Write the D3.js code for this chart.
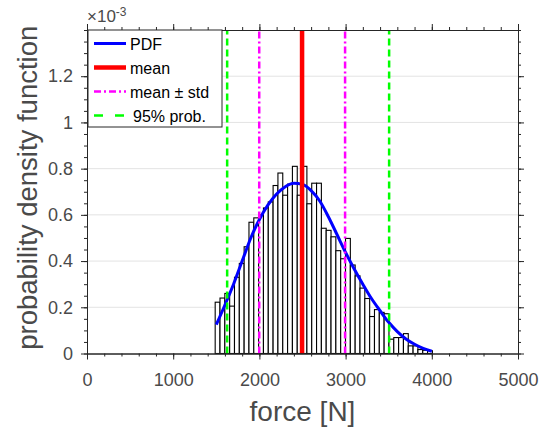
<!DOCTYPE html>
<html>
<head>
<meta charset="utf-8">
<script src="https://cdn.jsdelivr.net/npm/d3@7"></script>
<style>
  body { margin: 0; background: #fff; }
  text { font-family: "Liberation Sans", Arial, Helvetica, sans-serif; }
</style>
</head>
<body>
<div id="chart"></div>
<script>
// Histogram: first bin edge, bin width [N], density per bin (x1e-3)
var binStart = 1487;
var binWidth = 56;
var binDensity = [
  0.222, 0.240, 0.260, 0.205, 0.330, 0.390, 0.462, 0.568, 0.587, 0.600,
  0.630, 0.656, 0.727, 0.781, 0.685, 0.733, 0.810, 0.685, 0.810, 0.648,
  0.737, 0.737, 0.542, 0.533, 0.505, 0.445, 0.410, 0.498, 0.383, 0.336,
  0.283, 0.238, 0.160, 0.190, 0.178, 0.172, 0.062, 0.069, 0.069, 0.086,
  0.033, 0.033, 0.017, 0.014, 0.012
];

// Fitted PDF (x1e-3)
var pdfForce = [1500, 1600, 1700, 1800, 1900, 2000, 2100, 2200, 2300, 2400,
  2500, 2600, 2700, 2800, 2900, 3000, 3100, 3200, 3300, 3400,
  3500, 3600, 3700, 3800, 3900, 4000];
var pdfValue = [0.125, 0.210, 0.300, 0.400, 0.500, 0.580, 0.643, 0.690, 0.722, 0.737,
  0.732, 0.705, 0.660, 0.592, 0.515, 0.437, 0.366, 0.300, 0.238, 0.185,
  0.135, 0.095, 0.063, 0.040, 0.022, 0.010];

// Statistics
var meanForce = 2495;
var stdForces = [1998, 2994];
var probForces = [1626, 3505];

var xTicks = [0, 1000, 2000, 3000, 4000, 5000];
var yTicks = [0, 0.2, 0.4, 0.6, 0.8, 1, 1.2];
var legendLabels = ["PDF", "mean", "mean \u00b1 std", "95% prob."];

// Setting chart parameters
var svgWidth = 541;
var svgHeight = 433;
var margin = { top: 30, right: 23, bottom: 79.5, left: 87 };
var width = svgWidth - margin.left - margin.right;
var height = svgHeight - margin.top - margin.bottom;

var axisColor = "#262626";
var textColor = "#4a4a4a";

var svg = d3.select("#chart")
  .append("svg")
  .attr("width", svgWidth)
  .attr("height", svgHeight);

var chart = svg.append("g").attr("transform", `translate(${margin.left}, ${margin.top})`);

var x = d3.scaleLinear().domain([0, 5000]).range([0, width]);
var y = d3.scaleLinear().domain([0, 1.4]).range([height, 0]);

// Horizontal grid
chart.append("g")
  .selectAll("line")
  .data(yTicks.slice(1))
  .enter()
  .append("line")
  .attr("x1", 0)
  .attr("x2", width)
  .attr("y1", d => y(d))
  .attr("y2", d => y(d))
  .attr("stroke", "#e3e3e3")
  .attr("stroke-width", 1);

// Histogram bars
chart.append("g")
  .selectAll("rect")
  .data(binDensity)
  .enter()
  .append("rect")
  .attr("x", (d, i) => x(binStart + i * binWidth))
  .attr("y", d => y(d))
  .attr("width", x(binWidth) - x(0))
  .attr("height", d => y(0) - y(d))
  .attr("fill", "#fff")
  .attr("stroke", "#000")
  .attr("stroke-width", 1.1);

// PDF curve
var pdfLine = d3.line()
  .x((d, i) => x(pdfForce[i]))
  .y(d => y(d))
  .curve(d3.curveMonotoneX);

chart.append("path")
  .datum(pdfValue)
  .attr("d", pdfLine)
  .attr("fill", "none")
  .attr("stroke", "#0000ff")
  .attr("stroke-width", 3);

// Vertical lines
function vline(f, color, w, dash) {
  chart.append("line")
    .attr("x1", x(f))
    .attr("x2", x(f))
    .attr("y1", y(0))
    .attr("y2", y(1.4))
    .attr("stroke", color)
    .attr("stroke-width", w)
    .attr("stroke-dasharray", dash);
}
vline(meanForce, "#ff0000", 4.5, null);
stdForces.forEach(f => vline(f, "#ff00ff", 2.5, "7,3,2,3"));
probForces.forEach(f => vline(f, "#00ff00", 2.5, "7,4"));

// Axes (ticks outward, mirrored on top/right)
function styleAxis(g) {
  g.selectAll("path").attr("stroke", axisColor);
  g.selectAll("line").attr("stroke", axisColor);
  g.selectAll("text")
    .attr("fill", textColor)
    .style("font-size", "18px");
}

var xMinor = d3.range(0, 5001, 200);
var yMinor = d3.range(0, 1.401, 0.05);

chart.append("g")
  .attr("transform", `translate(0, ${height})`)
  .call(d3.axisBottom(x).tickValues(xMinor).tickSize(3).tickSizeOuter(0).tickFormat(""))
  .call(styleAxis);
chart.append("g")
  .attr("transform", `translate(0, ${height})`)
  .call(d3.axisBottom(x).tickValues(xTicks).tickSize(6).tickSizeOuter(0).tickPadding(14).tickFormat(d3.format("d")))
  .call(styleAxis);
chart.append("g")
  .call(d3.axisTop(x).tickValues(xMinor).tickSize(3).tickSizeOuter(0).tickFormat(""))
  .call(styleAxis);
chart.append("g")
  .call(d3.axisTop(x).tickValues(xTicks).tickSize(6).tickSizeOuter(0).tickFormat(""))
  .call(styleAxis);

chart.append("g")
  .call(d3.axisLeft(y).tickValues(yMinor).tickSize(3).tickSizeOuter(0).tickFormat(""))
  .call(styleAxis);
chart.append("g")
  .call(d3.axisLeft(y).tickValues(yTicks).tickSize(6).tickSizeOuter(0).tickPadding(8).tickFormat(d => d3.format("~g")(d)))
  .call(styleAxis);
chart.append("g")
  .attr("transform", `translate(${width}, 0)`)
  .call(d3.axisRight(y).tickValues(yMinor).tickSize(3).tickSizeOuter(0).tickFormat(""))
  .call(styleAxis);
chart.append("g")
  .attr("transform", `translate(${width}, 0)`)
  .call(d3.axisRight(y).tickValues(yTicks).tickSize(6).tickSizeOuter(0).tickFormat(""))
  .call(styleAxis);

// Exponent label
var expLabel = chart.append("text")
  .attr("x", 0)
  .attr("y", -8)
  .attr("fill", textColor)
  .style("font-size", "17px");
expLabel.append("tspan").text("\u00d710");
expLabel.append("tspan").attr("dy", -6).style("font-size", "12px").text("-3");

// Axis labels
svg.append("text")
  .attr("x", margin.left + width / 2)
  .attr("y", 421)
  .attr("text-anchor", "middle")
  .attr("fill", textColor)
  .style("font-size", "28px")
  .text("force [N]");

svg.append("text")
  .attr("transform", `translate(37, ${margin.top + height / 2 - 4}) rotate(-90)`)
  .attr("text-anchor", "middle")
  .attr("fill", textColor)
  .style("font-size", "27.5px")
  .text("probability density function");

// Legend
var legend = chart.append("g").attr("transform", "translate(1, 0)");
legend.append("rect")
  .attr("x", 0)
  .attr("y", 0)
  .attr("width", 134)
  .attr("height", 97)
  .attr("fill", "#fff")
  .attr("stroke", axisColor)
  .attr("stroke-width", 1);

var legendStyle = [
  { color: "#0000ff", w: 3, dash: null },
  { color: "#ff0000", w: 4.5, dash: null },
  { color: "#ff00ff", w: 2.5, dash: "7,3,2,3" },
  { color: "#00ff00", w: 2.5, dash: "9,12" }
];

legendLabels.forEach(function(label, i) {
  var ly = 13.5 + i * 24;
  legend.append("line")
    .attr("x1", 6)
    .attr("x2", 38)
    .attr("y1", ly)
    .attr("y2", ly)
    .attr("stroke", legendStyle[i].color)
    .attr("stroke-width", legendStyle[i].w)
    .attr("stroke-dasharray", legendStyle[i].dash);
  legend.append("text")
    .attr("x", i === 3 ? 45 : 42)
    .attr("y", ly + 6)
    .attr("fill", "#000")
    .style("font-size", "16px")
    .text(label);
});
</script>
</body>
</html>
